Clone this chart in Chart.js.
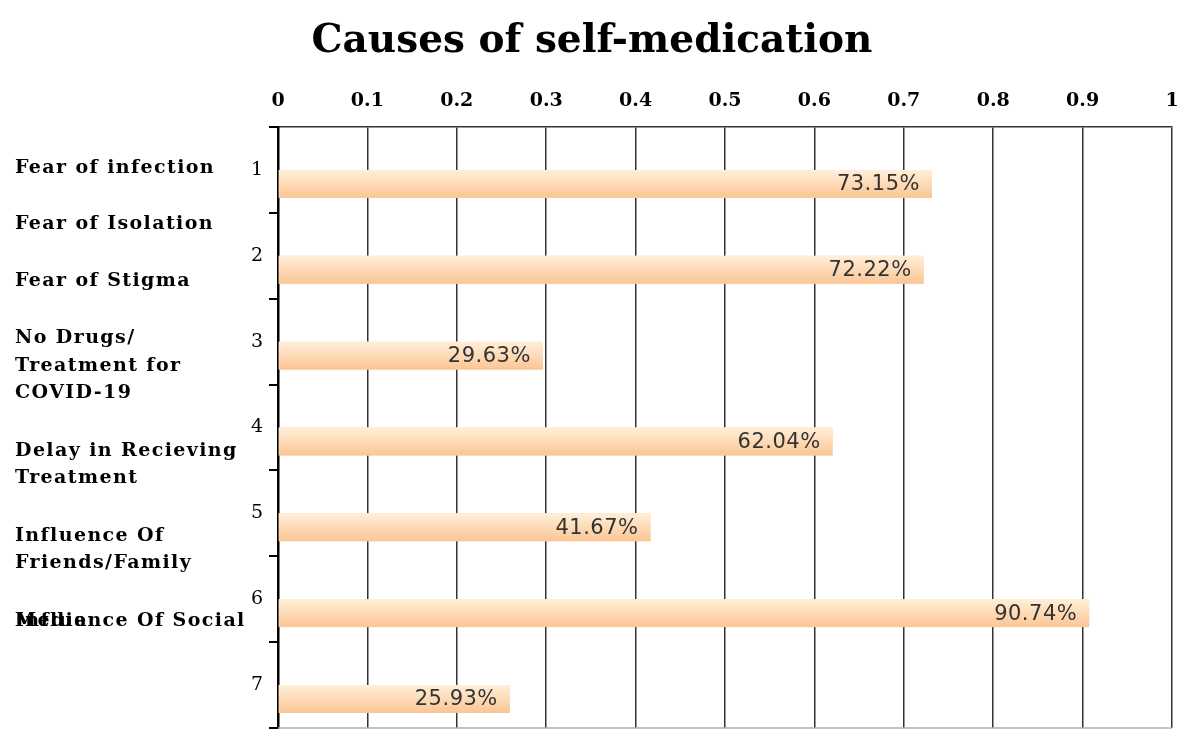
<!DOCTYPE html>
<html>
<head>
<meta charset="utf-8">
<script src="https://cdn.jsdelivr.net/npm/chart.js@4.4.1/dist/chart.umd.min.js"></script>
<style>
  html, body { margin: 0; padding: 0; background: #fff; }
  #wrap { width: 1184px; height: 742px; }
</style>
</head>
<body>
<div id="wrap"><canvas id="causesChart" width="1184" height="742"></canvas></div>
<script>
// data
const categories = ['1', '2', '3', '4', '5', '6', '7'];
const shares = [0.7315, 0.7222, 0.2963, 0.6204, 0.4167, 0.9074, 0.2593];
const xTicks = ['0', '0.1', '0.2', '0.3', '0.4', '0.5', '0.6', '0.7', '0.8', '0.9', '1'];

// loose text boxes on the left, with their position in category units
const noteLines = ['Fear of infection', 'Fear of Isolation', 'Fear of Stigma',
  'No Drugs/', 'Treatment for', 'COVID-19',
  'Delay in Recieving', 'Treatment',
  'Influence Of', 'Friends/Family',
  'Influence Of Social', 'Media'];
const notePos = [-0.02, 0.63, 1.30, 1.96, 2.28, 2.60, 3.28, 3.59, 4.27, 4.58, 5.25, 5.26];

const serifBold = { family: 'DejaVu Serif', weight: 'bold' };

const sideNotes = {
  id: 'sideNotes',
  afterDraw(chart) {
    const { ctx } = chart;
    const y = chart.scales.y;
    ctx.save();
    ctx.font = 'bold 19px "DejaVu Serif"';
    ctx.letterSpacing = '1.4px';
    ctx.fillStyle = '#000';
    ctx.textAlign = 'left';
    ctx.textBaseline = 'middle';
    noteLines.forEach((t, i) => ctx.fillText(t, 15, y.getPixelForValue(notePos[i])));
    ctx.restore();
  }
};

// gradient bars + value labels
const barDeco = {
  id: 'barDeco',
  afterDatasetsDraw(chart) {
    const { ctx, chartArea } = chart;
    const meta = chart.getDatasetMeta(1);
    ctx.save();
    // bottom frame line
    ctx.strokeStyle = '#b0b0b0';
    ctx.lineWidth = 1.5;
    ctx.beginPath();
    ctx.moveTo(chartArea.left, chartArea.bottom);
    ctx.lineTo(chartArea.right, chartArea.bottom);
    ctx.stroke();
    meta.data.forEach((el, i) => {
      const top = el.y - el.height / 2;
      const g = ctx.createLinearGradient(0, top, 0, top + el.height);
      g.addColorStop(0, '#FFEFD9');
      g.addColorStop(1, '#FBC594');
      ctx.fillStyle = g;
      ctx.fillRect(el.base, top, el.x - el.base, el.height);
      ctx.font = '21px "DejaVu Sans"';
      ctx.letterSpacing = '0.5px';
      ctx.fillStyle = '#333';
      ctx.textAlign = 'right';
      ctx.textBaseline = 'middle';
      ctx.fillText((shares[i] * 100).toFixed(2) + '%', el.x - 12, el.y + 1);
    });
    ctx.restore();
  }
};

new Chart(document.getElementById('causesChart'), {
  type: 'bar',
  data: {
    labels: categories,
    datasets: [
      { label: 'spacer', data: [] },
      { label: 'Causes', data: shares, backgroundColor: '#FCD9B6', borderWidth: 0 }
    ]
  },
  options: {
    indexAxis: 'y',
    responsive: false,
    animation: false,
    categoryPercentage: 0.65,
    barPercentage: 1.0,
    layout: { padding: 0 },
    plugins: {
      legend: { display: false },
      tooltip: { enabled: false },
      title: {
        display: true,
        text: 'Causes of self-medication',
        color: '#000',
        font: { ...serifBold, size: 39 },
        padding: { top: 18, bottom: 1 }
      }
    },
    scales: {
      x: {
        position: 'top',
        min: 0,
        max: 1,
        ticks: {
          stepSize: 0.1,
          color: '#000',
          font: { ...serifBold, size: 19 },
          padding: 15,
          callback: (v, i) => xTicks[i]
        },
        grid: { color: '#333', lineWidth: 1.5, drawTicks: false },
        border: { color: '#333', width: 1.5 },
        afterFit(s) {
          s.height = 61.2;
          s.paddingLeft = 0;
          s.paddingRight = 12;
        }
      },
      y: {
        offset: true,
        ticks: { color: '#000', font: { family: 'DejaVu Serif', size: 19 }, padding: 6 },
        grid: { offset: true, drawOnChartArea: false, drawTicks: true, tickLength: 9, color: '#000', lineWidth: 2 },
        border: { color: '#000', width: 2.5 },
        afterFit(s) {
          s.width = 278;
          s.paddingTop = 0;
          s.paddingBottom = 14;
        }
      }
    }
  },
  plugins: [sideNotes, barDeco]
});
</script>
</body>
</html>
